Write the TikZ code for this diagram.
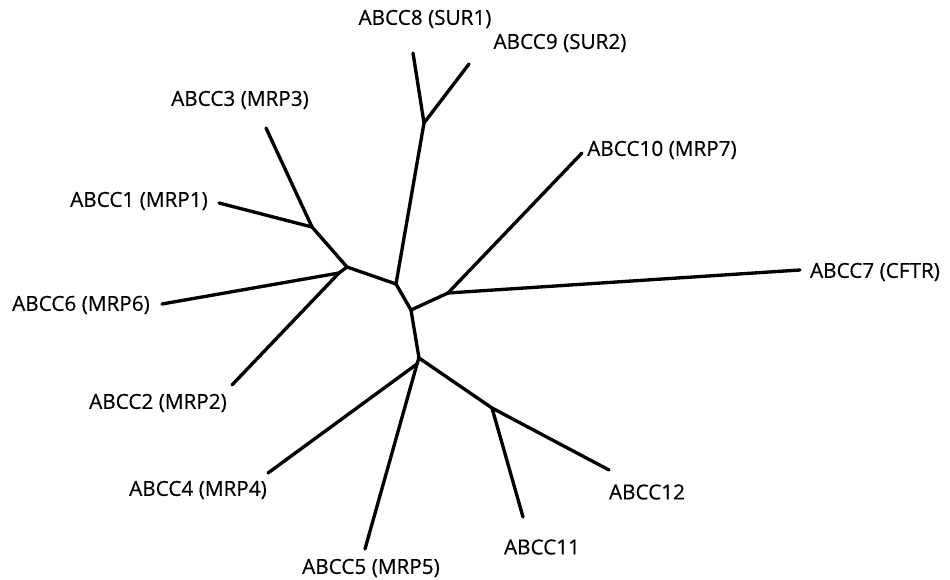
\documentclass[tikz,border=0pt]{standalone}
\usepackage{fontspec}
\setmainfont{Open Sans}
\newfontfamily\taxonfont{Open Sans}[FakeBold=0.5]
\tikzset{
  branch/.style={line width=1.9pt, line cap=round, line join=round},
  taxon/.style={font=\taxonfont\fontsize{11.8}{13}\selectfont, inner sep=1pt}
}

\begin{document}
\begin{tikzpicture}[x=0.02cm, y=-0.02cm]
        \useasboundingbox (0,0) rectangle (950,580);

        % Inner nodes
        \coordinate (j89)   at (424,123);
        \coordinate (c1)    at (396,284);
        \coordinate (j316)  at (347,267);
        \coordinate (j31)   at (312,227);
        \coordinate (j62)   at (339,273);
        \coordinate (c2)    at (411,310);
        \coordinate (j710)  at (448,293);
        \coordinate (c3)    at (419,358);
        \coordinate (j45)   at (417,364);
        \coordinate (j1112) at (492,408);

        % Leaf ends
        \coordinate (t8)  at (413,53);
        \coordinate (t9)  at (469,64);
        \coordinate (t3)  at (266,128);
        \coordinate (t1)  at (219,203);
        \coordinate (t6)  at (162,304);
        \coordinate (t2)  at (232,385);
        \coordinate (t10) at (582,153);
        \coordinate (t7)  at (800,270);
        \coordinate (t4)  at (268,473);
        \coordinate (t5)  at (365,549);
        \coordinate (t11) at (523,517);
        \coordinate (t12) at (609,470);

        % Backbone
        \draw[branch] (j89) -- (c1) -- (c2) -- (c3) -- (j45);
        \draw[branch] (c1) -- (j316) -- (j31);
        \draw[branch] (j316) -- (j62);
        \draw[branch] (c2) -- (j710);
        \draw[branch] (c3) -- (j1112);

        % Terminal branches
        \draw[branch] (j89) -- (t8);
        \draw[branch] (j89) -- (t9);
        \draw[branch] (j31) -- (t3);
        \draw[branch] (j31) -- (t1);
        \draw[branch] (j62) -- (t6);
        \draw[branch] (j62) -- (t2);
        \draw[branch] (j710) -- (t10);
        \draw[branch] (j710) -- (t7);
        \draw[branch] (j45) -- (t4);
        \draw[branch] (j45) -- (t5);
        \draw[branch] (j1112) -- (t11);
        \draw[branch] (j1112) -- (t12);

        % Labels
        \node[taxon] (l8)  at (425,19)  {ABCC8 (SUR1)};
        \node[taxon] (l9)  at (560,43)  {ABCC9 (SUR2)};
        \node[taxon] (l3)  at (240,100) {ABCC3 (MRP3)};
        \node[taxon] (l10) at (662,150) {ABCC10 (MRP7)};
        \node[taxon] (l1)  at (139,201) {ABCC1 (MRP1)};
        \node[taxon] (l7)  at (875,272) {ABCC7 (CFTR)};
        \node[taxon] (l6)  at (81,305)  {ABCC6 (MRP6)};
        \node[taxon] (l2)  at (158,403) {ABCC2 (MRP2)};
        \node[taxon] (l4)  at (198,490) {ABCC4 (MRP4)};
        \node[taxon] (l12) at (647,492) {ABCC12};
        \node[taxon] (l11) at (542,547) {ABCC11};
        \node[taxon] (l5)  at (371,568) {ABCC5 (MRP5)};
      \end{tikzpicture}
\end{document}
